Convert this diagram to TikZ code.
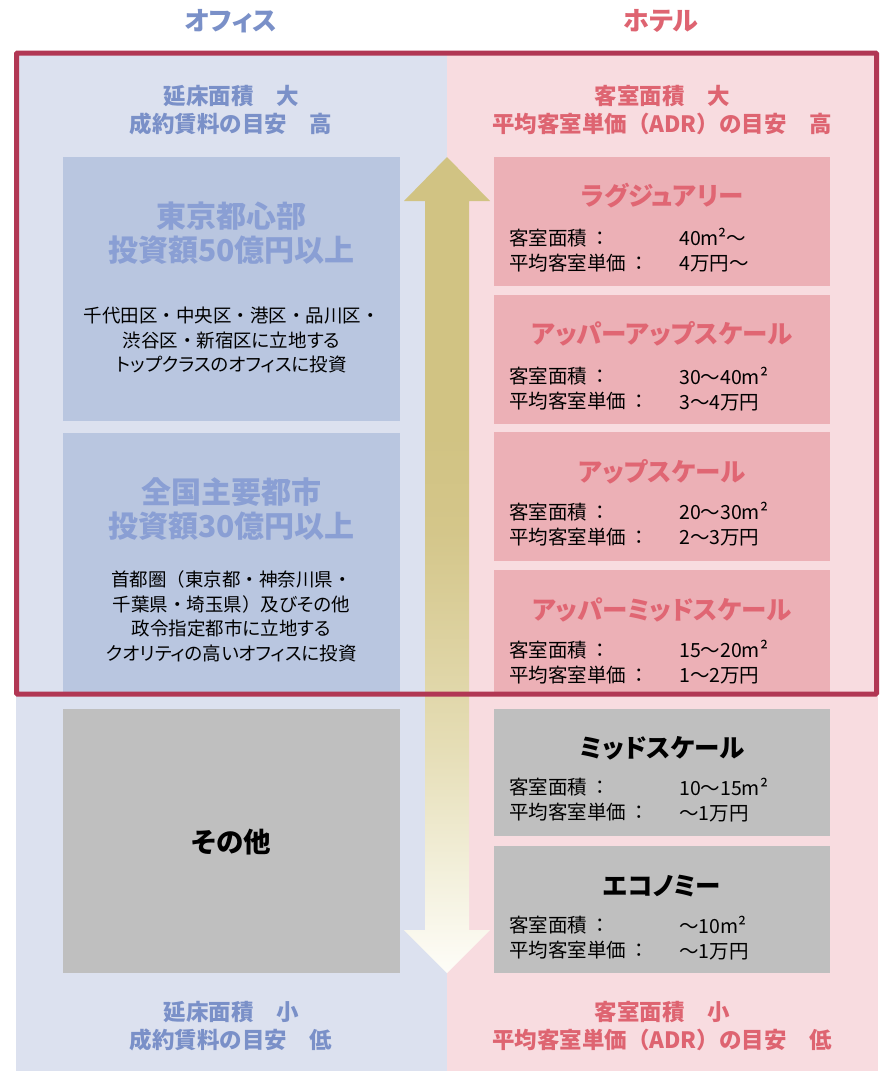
\documentclass[tikz,border=0pt]{standalone}
\usepackage{fontspec}
\setmainfont{Noto Sans CJK JP}[RawFeature=+palt]
\newfontfamily\headfont{Noto Sans CJK JP}
\newcommand{\nd}{{\headfont ・}}
\newcommand{\lp}{{\headfont （}}
\newcommand{\rp}{{\headfont ）}}
\definecolor{leftbg}{HTML}{DCE1EF}
\definecolor{rightbg}{HTML}{F8DCE0}
\definecolor{leftbox}{HTML}{B9C6E0}
\definecolor{rightbox}{HTML}{ECB0B6}
\definecolor{graybox}{HTML}{BFBFBF}
\definecolor{frame}{HTML}{B13754}
\definecolor{bluehead}{HTML}{7A90C8}
\definecolor{bluetitle}{HTML}{8A9FD4}
\definecolor{pinkhead}{HTML}{DE6471}
\definecolor{pinktitle}{HTML}{E06673}
\definecolor{arrtop}{HTML}{D1C383}
\definecolor{arrmid}{HTML}{D4C68A}
\definecolor{arrlow}{HTML}{E5DDB5}
\definecolor{arrlow2}{HTML}{F3F0DC}
\definecolor{arrbot}{HTML}{FEFDF8}
\pgfdeclareverticalshading{arrowshade}{100bp}{color(0bp)=(arrbot); color(25bp)=(arrbot); color(31bp)=(arrlow2); color(39bp)=(arrlow); color(52bp)=(arrmid); color(58bp)=(arrtop); color(100bp)=(arrtop)}
\tikzset{
  head/.style={font=\headfont\bfseries\fontsize{22.5}{28}\selectfont, align=center, inner sep=0pt},
  toptitle/.style={font=\bfseries\fontsize{26}{30}\selectfont, inner sep=0pt},
  ltitle/.style={font=\bfseries\fontsize{30}{34}\selectfont, text=bluetitle, align=center, inner sep=0pt},
  lbody/.style={font=\fontsize{18.5}{24.5}\selectfont, align=center, inner sep=0pt},
  rtitle/.style={font=\bfseries\fontsize{25.5}{30}\selectfont, text=pinktitle, inner sep=0pt},
  gtitle/.style={font=\bfseries\fontsize{25.5}{30}\selectfont, text=black, inner sep=0pt},
  rlabel/.style={font=\headfont\fontsize{19.5}{25}\selectfont, anchor=west, inner sep=0pt, align=left},
}
\begin{document}
\begin{tikzpicture}[x=1pt,y=-1pt]
\useasboundingbox (0,0) rectangle (880,1071);
\fill[white] (0,0) rectangle (880,1071);
% backgrounds
\fill[leftbg] (16,53) rectangle (447,1071);
\fill[rightbg] (447,53) rectangle (878,1071);
% column titles
\node[toptitle, text=bluehead] (tOff) at (231,21) {オフィス};
\node[toptitle, text=pinkhead] (tHot) at (661,21) {ホテル};
% top/bottom headings
\node[head, text=bluehead] (hL1) at (231,110) {延床面積　大\\成約賃料の目安　高};
\node[head, text=pinkhead] (hR1) at (662,110) {客室面積　大\\平均客室単価（ADR）の目安　高};
\node[head, text=bluehead] (hL2) at (231,1026) {延床面積　小\\成約賃料の目安　低};
\node[head, text=pinkhead] (hR2) at (662,1026) {客室面積　小\\平均客室単価（ADR）の目安　低};
% left boxes
\fill[leftbox] (63,157) rectangle (400,421);
\fill[leftbox] (63,433) rectangle (400,695);
\fill[graybox] (63,709) rectangle (400,973);
\node[ltitle] (l1t) at (231.5,233) {東京都心部\\投資額50億円以上};
\node[lbody] (l1b) at (231.5,340) {千代田区\nd 中央区\nd 港区\nd 品川区\nd\\渋谷区\nd 新宿区に立地する\\トップクラスのオフィスに投資};
\node[ltitle] (l2t) at (231.5,509) {全国主要都市\\投資額30億円以上};
\node[lbody] (l2b) at (231.5,616.5) {首都圏\lp 東京都\nd 神奈川県\nd\\千葉県\nd 埼玉県\rp 及びその他\\政令指定都市に立地する\\クオリティの高いオフィスに投資};
\node[gtitle, font=\bfseries\fontsize{27.5}{30}\selectfont] (l3t) at (231.5,842) {その他};
% right boxes
\fill[rightbox] (494,157) rectangle (830,286);
\fill[rightbox] (494,295) rectangle (830,424);
\fill[rightbox] (494,432) rectangle (830,561);
\fill[rightbox] (494,570) rectangle (830,695);
\fill[graybox] (494,709) rectangle (830,836);
\fill[graybox] (494,846) rectangle (830,973);
\node[rtitle] (r1t) at (662,196) {ラグジュアリー};
\node[rlabel] (r1l) at (509,250.5) {客室面積\hspace{3pt}：\\平均客室単価\hspace{3pt}：};
\node[rlabel] (r1v) at (679,250.5) {40m²～\\4万円～};
\node[rtitle] (r2t) at (662,334) {アッパーアップスケール};
\node[rlabel] (r2l) at (509,389) {客室面積\hspace{3pt}：\\平均客室単価\hspace{3pt}：};
\node[rlabel] (r2v) at (679,389) {30～40m²\\3～4万円};
\node[rtitle] (r3t) at (662,472) {アップスケール};
\node[rlabel] (r3l) at (509,524.5) {客室面積\hspace{3pt}：\\平均客室単価\hspace{3pt}：};
\node[rlabel] (r3v) at (679,524.5) {20～30m²\\2～3万円};
\node[rtitle] (r4t) at (662,610) {アッパーミッドスケール};
\node[rlabel] (r4l) at (509,662.5) {客室面積\hspace{3pt}：\\平均客室単価\hspace{3pt}：};
\node[rlabel] (r4v) at (679,662.5) {15～20m²\\1～2万円};
\node[gtitle] (r5t) at (662,748) {ミッドスケール};
\node[rlabel] (r5l) at (509,800) {客室面積\hspace{3pt}：\\平均客室単価\hspace{3pt}：};
\node[rlabel] (r5v) at (679,800) {10～15m²\\～1万円};
\node[gtitle] (r6t) at (662,886) {エコノミー};
\node[rlabel] (r6l) at (509,938) {客室面積\hspace{3pt}：\\平均客室単価\hspace{3pt}：};
\node[rlabel] (r6v) at (679,938) {～10m²\\～1万円};
% double arrow
\shade[shading=arrowshade] (447,157) -- (490,201) -- (469,201) -- (469,930) -- (490,930) -- (447,973) -- (404,930) -- (425,930) -- (425,201) -- (404,201) -- cycle;
% red frame
\draw[frame, line width=5pt, rounded corners=1pt] (16.5,53) rectangle (876.5,694);
\end{tikzpicture}
\end{document}
